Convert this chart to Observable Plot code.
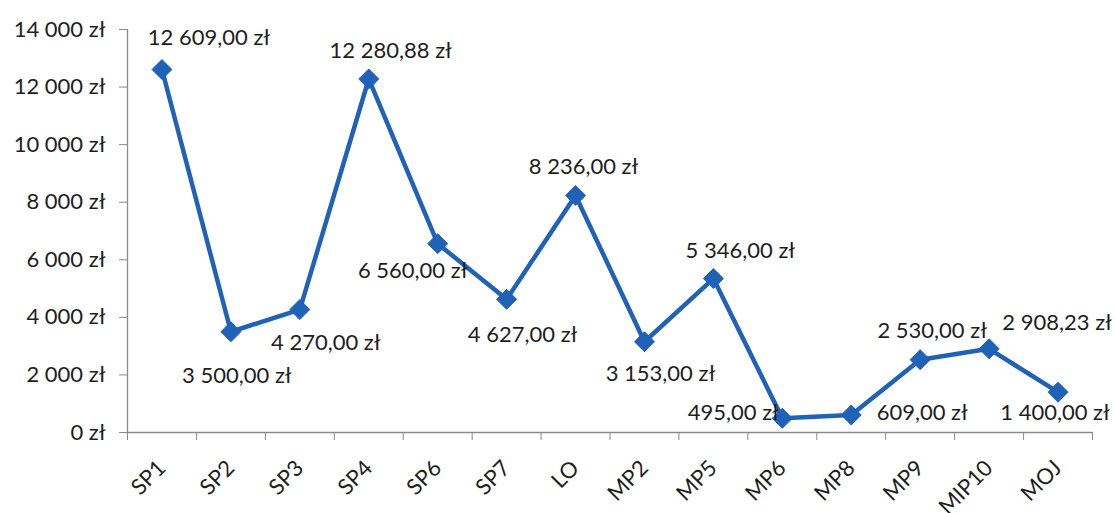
<!DOCTYPE html>
<html><head><meta charset="utf-8">
<script src="https://cdn.jsdelivr.net/npm/d3@7"></script>
<script src="https://cdn.jsdelivr.net/npm/@observablehq/plot@0.6"></script>
<style>body{margin:0;background:#fff}#chart svg{display:block}</style>
</head><body><div id="chart"></div>
<script>
const categories = ["SP1","SP2","SP3","SP4","SP6","SP7","LO","MP2","MP5","MP6","MP8","MP9","MIP10","MOJ"];
const values = [12609, 3500, 4270, 12280.88, 6560, 4627, 8236, 3153, 5346, 495, 609, 2530, 2908.23, 1400];
const yTicks = [0, 2000, 4000, 6000, 8000, 10000, 12000, 14000];

const pl = d3.formatLocale({decimal: ",", thousands: "\u00a0", grouping: [3], currency: ["", "\u00a0zł"]});
const fmtVal = pl.format("$,.2f");
const fmtTick = pl.format("$,.0f");
const data = categories.map((c, i) => ({i, c, v: values[i]}));
const idx = d3.range(categories.length);
const bounds = d3.range(categories.length + 1).map(i => i - 0.5);

// label placement (style only)
const place = {
  SP1: [47, -32], SP2: [6, 44], SP3: [26, 33], SP4: [22, -28], SP6: [-25, 27],
  SP7: [16, 36], LO: [8, -28], MP2: [16, 32], MP5: [27, -28], MP6: [-49, -5],
  MP8: [71, -2], MP9: [12, -29], MIP10: [68, -26], MOJ: [-3, 21]
};

const color = "#1f62b8";
const ink = "#1e1e1e";
const axisGray = "#8a8a8a";

const plot = Plot.plot({
  width: 1115, height: 513,
  marginLeft: 127, marginRight: 23, marginTop: 29, marginBottom: 81,
  style: {fontFamily: "Lato, 'Open Sans', sans-serif", fontSize: "22px", color: ink, background: "white"},
  x: {type: "linear", domain: [-0.5, categories.length - 0.5], axis: null, label: null},
  y: {domain: [0, 14000], axis: null, label: null},
  marks: [
    Plot.ruleY([0], {stroke: axisGray, strokeWidth: 1.3}),
    Plot.ruleX([-0.5], {y1: 0, y2: 14000, stroke: axisGray, strokeWidth: 1.3}),
    Plot.axisY({ticks: yTicks, tickFormat: fmtTick, tickSize: 8, tickPadding: 14, stroke: axisGray, fill: ink, fontSize: 22, label: null}),
    Plot.axisX({ticks: bounds, tickFormat: () => "", tickSize: 8, stroke: axisGray, label: null}),
    Plot.axisX({ticks: idx, tickFormat: i => categories[i], tickSize: 0, tickPadding: 32, tickRotate: -45, fill: ink, fontSize: 22, label: null}),
    Plot.line(data, {x: "i", y: "v", stroke: color, strokeWidth: 4.5}),
    Plot.dot(data, {x: "i", y: "v", symbol: "diamond2", r: 9, fill: color, stroke: color, strokeWidth: 1}),
    ...categories.map(c => Plot.text(data, {
      filter: d => d.c === c, x: "i", y: "v", text: d => fmtVal(d.v),
      dx: place[c][0], dy: place[c][1], fill: ink, fontSize: 22
    }))
  ]
});
document.getElementById("chart").append(plot);
</script>
</body></html>
